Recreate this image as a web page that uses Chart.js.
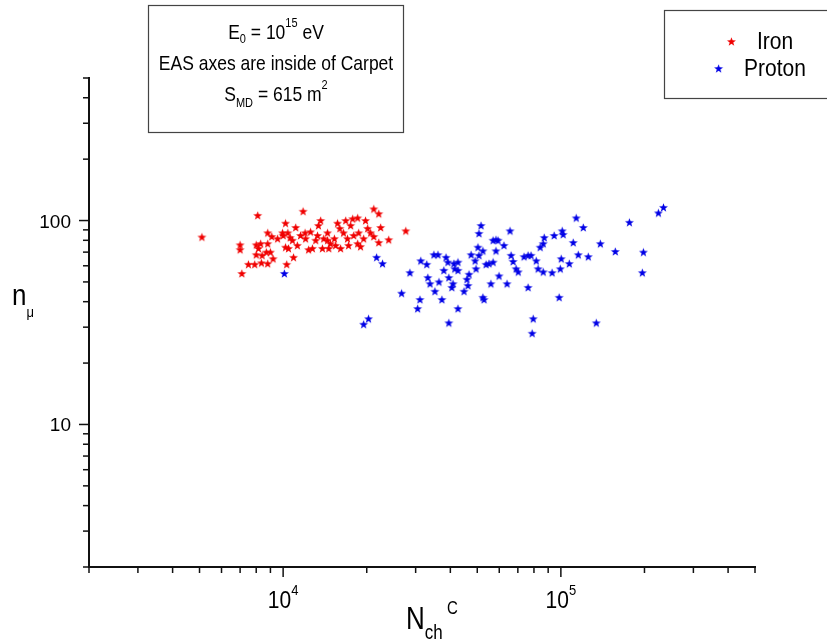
<!DOCTYPE html>
<html>
<head>
<meta charset="utf-8">
<script src="https://cdn.jsdelivr.net/npm/chart.js"></script>
<style>
  body { margin: 0; background: #fff; }
</style>
</head>
<body>
<canvas id="scatter" width="827" height="644"></canvas>
<script>
// N_ch^C vs n_mu for simulated showers, iron and proton primaries
const ironN = [5100, 8100, 11800, 7000, 7000, 7100, 7500, 7900, 8350, 8800, 9200, 8000, 8150, 8000,
  8300, 8700, 8800, 8800, 9100, 9550, 10200, 10400, 10600, 10200, 10450, 10300, 10900, 11250,
  11100, 11550, 12000, 12350, 12550, 13100, 13400, 13650, 14000, 14450, 13850, 14600, 14800,
  15300, 15700, 16000, 16100, 16500, 16800, 17500, 17800, 18550, 17950, 18550, 19000, 19500,
  19800, 20150, 20650, 21200, 21200, 22100, 22450, 22100, 24000, 27650, 9950, 10800, 12050,
  13300, 15450, 17050, 18700, 17200, 14450, 9000, 8400, 12750, 10000];
const ironMu = [83, 106, 111, 76, 72, 55, 61, 61, 62, 61.5, 65, 68, 73, 76, 77, 70, 77, 87, 83.5,
  81.5, 97, 87, 82.5, 74, 73, 61, 66, 75.5, 92.5, 84.5, 87, 72, 88, 80, 94.5, 100, 81.5, 87, 73,
  73, 77, 81.5, 97, 91.5, 73, 87, 100, 94.5, 102, 103, 84.5, 77, 74.5, 81.5, 100, 91.5, 87, 83.5,
  114, 108, 92.5, 78, 80.5, 89, 87, 80, 81.5, 84.5, 75.5, 81.5, 87, 75.5, 80, 70, 67.5, 73, 84.5];

const protonN = [10100, 19500, 20300, 21700, 22800, 26700, 28600, 30500, 31100, 31300, 32900,
  33200, 33800, 34900, 35200, 36100, 36400, 37300, 37900, 38600, 39200, 39500, 39500, 40500,
  40900, 41200, 41500, 42600, 42600, 42600, 44800, 45900, 46300, 46700, 47500, 49100, 49500,
  50300, 50700, 50700, 51600, 52400, 52400, 52900, 53800, 55100, 56000, 57000, 57000, 58400,
  58400, 59400, 59900, 62400, 64000, 65600, 66200, 67300, 69000, 70200, 73700, 76200, 76200,
  78100, 79500, 78800, 81500, 82800, 84200, 86400, 87100, 86400, 93000, 94600, 98600, 99500,
  100300, 101100, 101900, 107200, 110800, 113600, 115500, 120400, 125500, 134100, 138700,
  157000, 176500, 198200, 196500, 224500, 234100];
const protonMu = [55, 31, 33, 66, 61.5, 44, 55.5, 37, 41, 63.5, 61, 52.5, 49, 68, 45, 68, 50, 41,
  57, 66, 62.5, 52.5, 31.5, 47, 49, 61.5, 58, 62.5, 37, 57, 45, 51.5, 48, 54.5, 68, 63.5, 58, 74,
  86.5, 67.5, 94.5, 71, 42, 41, 61, 61.5, 49, 80, 62.5, 80.5, 71, 80, 53.5, 75.5, 49, 89, 67.5, 63,
  58, 56, 66.5, 67.5, 47, 67.5, 33, 28, 63.5, 58, 74, 77, 82.5, 56, 55.5, 84.5, 42, 58, 65, 89,
  85.5, 61.5, 78, 103, 68, 92.5, 66.5, 31.5, 77, 70.5, 98, 70, 55.5, 109, 116];

const xMajorTicks = [10000, 100000];
const xMajorExp = ['4', '5'];
const xMinorTicks = [2000, 3000, 4000, 5000, 6000, 7000, 8000, 9000,
  20000, 30000, 40000, 50000, 60000, 70000, 80000, 90000,
  200000, 300000, 400000, 500000];
const yMajorTicks = [10, 100];
const yTickLabels = ['10', '100'];
const yMinorTicks = [2, 3, 4, 5, 6, 7, 8, 9, 20, 30, 40, 50, 60, 70, 80, 90, 200, 300, 400, 500];

const RED = '#f00000';
const BLUE = '#0000e6';
const FONT = '"Liberation Sans", Arial, sans-serif';
const font = size => size + 'px ' + FONT;

function star(color) {
  const c = document.createElement('canvas');
  c.width = 11;
  c.height = 11;
  const g = c.getContext('2d');
  g.fillStyle = color;
  g.beginPath();
  for (let i = 0; i < 10; i++) {
    const r = i % 2 ? 1.9 : 4.7;
    const a = -Math.PI / 2 + i * Math.PI / 5;
    g.lineTo(5.5 + r * Math.cos(a), 5.9 + r * Math.sin(a));
  }
  g.closePath();
  g.fill();
  return c;
}
const redStar = star(RED);
const blueStar = star(BLUE);

// text made of pieces: [text, size, baseline shift]; sy stretches the glyphs vertically
function parts(ctx, list, x, y, align, sy = 1) {
  let w = 0;
  list.forEach(p => { ctx.font = font(p[1]); w += ctx.measureText(p[0]).width; });
  let cx = align === 'center' ? x - w / 2 : align === 'right' ? x - w : x;
  ctx.save();
  ctx.translate(0, y);
  ctx.scale(1, sy);
  list.forEach(p => {
    ctx.font = font(p[1]);
    ctx.fillText(p[0], cx, (p[2] || 0) / sy);
    cx += ctx.measureText(p[0]).width;
  });
  ctx.restore();
  return w;
}

const decor = {
  id: 'decor',
  afterDraw(chart) {
    const { ctx, scales: { x, y } } = chart;
    ctx.save();
    ctx.strokeStyle = '#111';
    ctx.fillStyle = '#000';
    ctx.lineWidth = 1.5;
    ctx.textBaseline = 'alphabetic';

    const tick = (x1, y1, x2, y2) => {
      ctx.beginPath();
      ctx.moveTo(x1, y1);
      ctx.lineTo(x2, y2);
      ctx.stroke();
    };
    const bottom = x.top;
    const left = y.right;
    xMinorTicks.forEach(v => { const p = x.getPixelForValue(v); tick(p, bottom, p, bottom + 6); });
    xMajorTicks.forEach(v => { const p = x.getPixelForValue(v); tick(p, bottom, p, bottom + 10); });
    yMinorTicks.forEach(v => { const p = y.getPixelForValue(v); tick(left, p, left - 6, p); });
    yMajorTicks.forEach(v => { const p = y.getPixelForValue(v); tick(left, p, left - 10, p); });

    // tick labels
    xMajorTicks.forEach((v, i) => {
      parts(ctx, [['10', 21], [xMajorExp[i], 13, -13]], x.getPixelForValue(v), 608, 'center', 1.18);
    });
    yMajorTicks.forEach((v, i) => {
      parts(ctx, [[yTickLabels[i], 19]], 71, y.getPixelForValue(v) + 7, 'right');
    });

    // axis titles
    parts(ctx, [['N', 26], ['ch', 17, 10], [' C', 15, -15]], 406, 629, 'left', 1.2);
    parts(ctx, [['n', 26], ['\u03bc', 13, 12]], 12, 305, 'left', 1.15);

    // info box
    ctx.strokeStyle = '#444';
    ctx.lineWidth = 1.2;
    ctx.strokeRect(148.5, 5.5, 255, 127);
    const cx = 276;
    parts(ctx, [['E', 17.5], ['0', 11, 4], [' = 10', 17.5], ['15', 11, -12], [' eV', 17.5]], cx, 39, 'center', 1.2);
    parts(ctx, [['EAS axes are inside of Carpet', 17.5]], cx, 70, 'center', 1.2);
    parts(ctx, [['S', 17.5], ['MD', 11, 6], [' = 615 m', 17.5], ['2', 11, -12]], cx, 101, 'center', 1.2);

    // legend
    ctx.strokeRect(664.5, 10.5, 180, 88);
    chart.data.datasets.forEach((ds, i) => {
      ctx.font = font(21);
      const w = ctx.measureText(ds.label).width;
      const gx = 760 - (w + 30) / 2;
      const gy = 42 + i * 27;
      ctx.drawImage(ds.pointStyle, gx - 1, gy - 6);
      parts(ctx, [[ds.label, 21]], gx + 30, gy + 7, 'left', 1.12);
    });
    ctx.restore();
  }
};

new Chart(document.getElementById('scatter'), {
  type: 'scatter',
  data: {
    datasets: [
      {
        label: 'Iron',
        data: ironN.map((n, i) => ({ x: n, y: ironMu[i] })),
        pointStyle: redStar,
        backgroundColor: RED,
        borderColor: RED
      },
      {
        label: 'Proton',
        data: protonN.map((n, i) => ({ x: n, y: protonMu[i] })),
        pointStyle: blueStar,
        backgroundColor: BLUE,
        borderColor: BLUE
      }
    ]
  },
  options: {
    responsive: false,
    animation: false,
    devicePixelRatio: 1,
    layout: { padding: { top: 78, right: 72, left: 0, bottom: 0 } },
    plugins: { legend: { display: false }, tooltip: { enabled: false } },
    scales: {
      x: {
        type: 'logarithmic',
        min: 2000,
        max: 500000,
        grid: { display: false },
        border: { color: '#111', width: 2 },
        ticks: { display: false },
        afterFit: s => { s.height = 77; }
      },
      y: {
        type: 'logarithmic',
        min: 2,
        max: 500,
        grid: { display: false },
        border: { color: '#111', width: 2 },
        ticks: { display: false },
        afterFit: s => { s.width = 89; }
      }
    }
  },
  plugins: [decor]
});
</script>
</body>
</html>
